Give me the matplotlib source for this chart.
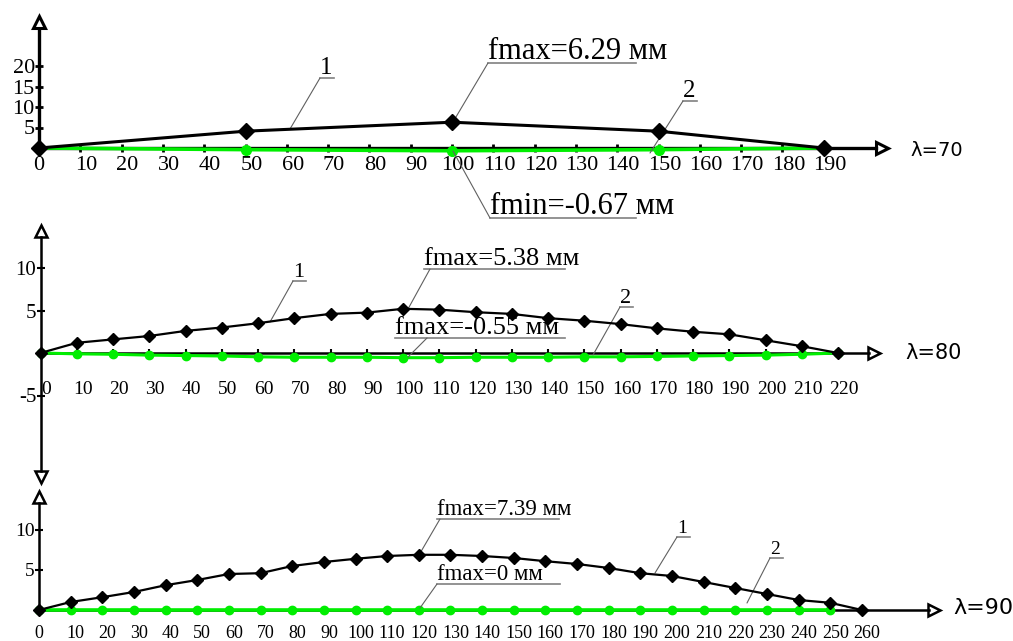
import matplotlib.pyplot as plt
from matplotlib.transforms import ScaledTranslation

plt.rcParams['font.family'] = ['Liberation Serif', 'DejaVu Serif']

W, H = 1013, 641

# lambda = 70
x70 = [0, 50, 100, 150, 190]
f1_70 = [0, 4.1, 6.29, 4.1, 0]
f2_70 = [0, -0.4, -0.67, -0.4, 0]

# lambda = 80
x80 = [0, 10, 20, 30, 40, 50, 60, 70, 80, 90, 100, 110, 120, 130, 140, 150,
       160, 170, 180, 190, 200, 210, 220]
f1_80 = [0, 1.2, 1.6, 2.0, 2.6, 3.0, 3.5, 4.1, 4.6, 4.75, 5.2, 5.1, 4.8, 4.6,
         4.1, 3.8, 3.4, 2.9, 2.5, 2.2, 1.5, 0.8, 0]
f2_80 = [0, -0.1, -0.15, -0.25, -0.3, -0.35, -0.45, -0.5, -0.5, -0.5, -0.55,
         -0.55, -0.5, -0.5, -0.5, -0.45, -0.45, -0.4, -0.35, -0.3, -0.25, -0.15, 0]

# lambda = 90
x90 = [0, 10, 20, 30, 40, 50, 60, 70, 80, 90, 100, 110, 120, 130, 140, 150,
       160, 170, 180, 190, 200, 210, 220, 230, 240, 250, 260]
f1_90 = [0, 1.0, 1.6, 2.25, 3.1, 3.75, 4.5, 4.6, 5.5, 6.0, 6.4, 6.75, 6.9, 6.9,
         6.75, 6.5, 6.1, 5.75, 5.25, 4.6, 4.25, 3.5, 2.75, 2.0, 1.25, 0.9, 0]
x90_2 = [0, 10, 20, 30, 40, 50, 60, 70, 80, 90, 100, 110, 120, 130, 140, 150,
         160, 170, 180, 190, 200, 210, 220, 230, 240, 250]
f2_90 = [0, 0, 0, 0, 0, 0, 0, 0, 0, 0, 0, 0, 0, 0, 0, 0,
         0, 0, 0, 0, 0, 0, 0, 0, 0, 0]

# x tick labels
ticks70 = [0, 10, 20, 30, 40, 50, 60, 70, 80, 90, 100, 110, 120, 130, 140,
           150, 160, 170, 180, 190]

GREEN = '#00ee00'
GREY = '#808080'


def make_panel(fig, cfg):
    x0, y0, sx, sy = cfg
    ax = fig.add_axes([0, 0, 1, 1])
    ax.set_xlim(-x0 / sx, (W - x0) / sx)
    ax.set_ylim(-(H - y0) / sy, y0 / sy)
    ax.patch.set_visible(False)
    ax.spines['top'].set_visible(False)
    ax.spines['right'].set_visible(False)
    ax.spines['left'].set_position(('data', 0))
    ax.spines['bottom'].set_position(('data', 0))
    return ax


def px(cfg, x, y):
    x0, y0, sx, sy = cfg
    return (x - x0) / sx, (y0 - y) / sy


def shift_labels(ax, start, dx=6):
    off = ScaledTranslation(dx / 100, 0, fig.dpi_scale_trans)
    for lab in ax.get_xticklabels()[start:]:
        lab.set_transform(lab.get_transform() + off)


def note(ax, cfg, text, start, knee, end_x, size, text_x=None):
    p0 = px(cfg, *start)
    p1 = px(cfg, *knee)
    ax.annotate('', xy=p0, xytext=p1,
                arrowprops=dict(arrowstyle='-', color='#606060', lw=0.8,
                                shrinkA=0, shrinkB=0))
    tx = knee[0] if text_x is None else text_x
    ax.plot([px(cfg, tx, 0)[0], px(cfg, end_x, 0)[0]], [p1[1], p1[1]],
            color=GREY, lw=1.2)
    ax.text(px(cfg, tx, 0)[0], px(cfg, 0, knee[1] - 4)[1], text,
            fontsize=size, ha='left', va='baseline')


def arrows(ax, cfg, up, right, down=None, lw=2):
    ax.plot([0], [px(cfg, 0, up)[1]], marker='^', ms=8, mfc='white',
            mec='black', mew=lw, clip_on=False)
    ax.plot([px(cfg, right, 0)[0]], [0], marker='>', ms=8, mfc='white',
            mec='black', mew=lw, clip_on=False)
    if down is not None:
        ax.plot([0], [px(cfg, 0, down)[1]], marker='v', ms=8, mfc='white',
                mec='black', mew=lw, clip_on=False)


fig = plt.figure(figsize=(W / 100, H / 100), dpi=100)

# ---- lambda = 70 ----
c1 = (39, 148, 4.13, 4.1)
ax1 = make_panel(fig, c1)
ax1.spines['left'].set_bounds(0, px(c1, 0, 29)[1])
ax1.spines['bottom'].set_bounds(0, px(c1, 876, 0)[0])
for s in ['left', 'bottom']:
    ax1.spines[s].set_linewidth(2.4)
ax1.set_xticks(ticks70, [str(v) for v in ticks70])
ax1.set_yticks([5, 10, 15, 20], ['5', '10', '15', '20'])
ax1.tick_params(axis='x', direction='inout', length=6, width=2, labelsize=16, pad=3)
ax1.tick_params(axis='y', direction='inout', length=6, width=2, labelsize=16, pad=0)
shift_labels(ax1, 1)
ax1.plot(x70, f2_70, color=GREEN, lw=2.6, marker='o', ms=7, zorder=3)
ax1.plot(x70, f1_70, color='black', lw=2.2, marker='D', ms=8, zorder=4)
arrows(ax1, c1, 22, 882, lw=2.2)
ax1.text(*px(c1, 910, 151), 'λ=70', family='DejaVu Sans', fontsize=14,
         ha='left', va='center')
note(ax1, c1, '1', (290, 129), (320, 78), 334, 18)
note(ax1, c1, 'fmax=6.29 мм', (453, 122), (488, 63), 636, 22)
note(ax1, c1, '2', (650, 153), (683, 101), 697, 18)
note(ax1, c1, 'fmin=-0.67 мм', (453, 151), (490, 218), 636, 22)

# ---- lambda = 80 ----
c2 = (40.5, 353, 3.625, 8.5)
ax2 = make_panel(fig, c2)
ax2.spines['left'].set_bounds(px(c2, 0, 471)[1], px(c2, 0, 237)[1])
ax2.spines['bottom'].set_bounds(0, px(c2, 869, 0)[0])
for s in ['left', 'bottom']:
    ax2.spines[s].set_linewidth(1.8)
ax2.set_xticks(x80, [str(v) for v in x80])
ax2.set_yticks([-5, 5, 10], ['-5', '5', '10'])
ax2.tick_params(axis='x', direction='inout', length=6, width=1.5, labelsize=14, pad=17)
ax2.tick_params(axis='y', direction='inout', length=6, width=1.5, labelsize=15, pad=0)
shift_labels(ax2, 0)
ax2.plot(x80, f2_80, color=GREEN, lw=2.2, marker='o', ms=6, zorder=3)
ax2.plot(x80, f1_80, color='black', lw=1.6, marker='D', ms=6.5, zorder=4)
arrows(ax2, c2, 231, 874, down=477, lw=1.8)
ax2.text(*px(c2, 905, 353), 'λ=80', family='DejaVu Sans', fontsize=15,
         ha='left', va='center')
note(ax2, c2, '1', (270, 322), (293, 281), 306, 16)
note(ax2, c2, 'fmax=5.38 мм', (408, 309), (430, 269), 565, 19, text_x=424)
note(ax2, c2, 'fmax=-0.55 мм', (408, 357), (427, 338), 565, 19, text_x=395)
note(ax2, c2, '2', (593, 355), (620, 307), 633, 16)

# ---- lambda = 90 ----
c3 = (39, 610, 3.165, 8.0)
ax3 = make_panel(fig, c3)
ax3.spines['left'].set_bounds(0, px(c3, 0, 503)[1])
ax3.spines['bottom'].set_bounds(0, px(c3, 929, 0)[0])
for s in ['left', 'bottom']:
    ax3.spines[s].set_linewidth(1.8)
ax3.set_xticks(x90, [str(v) for v in x90])
ax3.set_yticks([5, 10], ['5', '10'])
ax3.tick_params(axis='x', direction='inout', length=0, labelsize=13, pad=11)
ax3.tick_params(axis='y', direction='inout', length=6, width=1.5, labelsize=14, pad=0)
shift_labels(ax3, 1, dx=5)
ax3.plot(x90_2, f2_90, color=GREEN, lw=2.6, marker='o', ms=6, zorder=3)
ax3.plot(x90, f1_90, color='black', lw=1.6, marker='D', ms=6.5, zorder=4)
arrows(ax3, c3, 497, 934, lw=1.8)
ax3.text(*px(c3, 953, 608), 'λ=90', family='DejaVu Sans', fontsize=16,
         ha='left', va='center')
note(ax3, c3, 'fmax=7.39 мм', (419, 555), (440, 519), 559, 16.5, text_x=437)
note(ax3, c3, 'fmax=0 мм', (420, 608), (437, 584), 560, 16.5)
note(ax3, c3, '1', (655, 573), (677, 537), 690, 14)
note(ax3, c3, '2', (747, 603), (770, 558), 783, 14)

fig.savefig('out.png', dpi=100)
